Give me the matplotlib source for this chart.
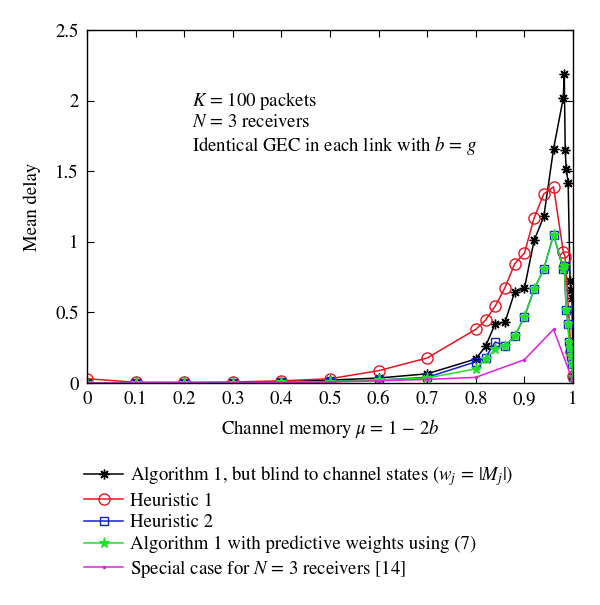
import matplotlib
matplotlib.use("Agg")
import matplotlib.pyplot as plt

plt.rcParams['font.family'] = ['STIXGeneral', 'DejaVu Serif']
plt.rcParams['mathtext.fontset'] = 'stix'

# Algorithm 1, blind to channel states (black)
x_blind = [0, 0.1, 0.2, 0.3, 0.4, 0.5, 0.6, 0.7, 0.8, 0.82, 0.84, 0.86, 0.88, 0.9, 0.92, 0.94, 0.96,
           0.98, 0.982, 0.984, 0.986, 0.99, 0.994, 0.996, 0.998, 1.0]
y_blind = [0.0, 0.0, 0.0, 0.0, 0.01, 0.02, 0.035, 0.065, 0.17, 0.26, 0.42, 0.43, 0.645, 0.67, 1.01, 1.18, 1.66,
           2.02, 2.19, 1.65, 1.52, 1.42, 0.72, 0.66, 0.60, 0.05]

# Heuristic 1 (red)
x_h1 = [0, 0.1, 0.2, 0.3, 0.4, 0.5, 0.6, 0.7, 0.8, 0.82, 0.84, 0.86, 0.88, 0.9, 0.92, 0.94, 0.96,
        0.98, 0.984, 0.996, 1.0]
y_h1 = [0.03, 0.005, 0.005, 0.007, 0.015, 0.03, 0.087, 0.177, 0.38, 0.445, 0.545, 0.675, 0.845, 0.92, 1.17, 1.34, 1.39,
        0.93, 0.89, 0.22, 0.05]

# Heuristic 2 (blue)
x_h2 = [0, 0.1, 0.2, 0.3, 0.4, 0.5, 0.6, 0.7, 0.8, 0.82, 0.84, 0.86, 0.88, 0.9, 0.92, 0.94, 0.96,
        0.98, 0.982, 0.986, 0.99, 0.992, 0.994, 0.996, 0.998, 1.0]
y_h2 = [0.0, 0.0, 0.0, 0.0, 0.005, 0.01, 0.02, 0.04, 0.15, 0.18, 0.29, 0.264, 0.33, 0.47, 0.665, 0.81, 1.05,
        0.81, 0.83, 0.52, 0.415, 0.29, 0.25, 0.19, 0.135, 0.045]

# Algorithm 1 with predictive weights (green)
x_pred = [0, 0.1, 0.2, 0.3, 0.4, 0.5, 0.6, 0.7, 0.8, 0.82, 0.84, 0.86, 0.88, 0.9, 0.92, 0.94, 0.96,
          0.98, 0.982, 0.986, 0.99, 0.992, 0.994, 0.996, 0.998, 1.0]
y_pred = [0.0, 0.0, 0.0, 0.0, 0.005, 0.01, 0.02, 0.035, 0.10, 0.17, 0.24, 0.264, 0.33, 0.47, 0.665, 0.81, 1.05,
          0.81, 0.83, 0.52, 0.415, 0.29, 0.25, 0.19, 0.135, 0.045]

# Special case for N = 3 receivers (magenta)
x_spec = [0, 0.1, 0.2, 0.3, 0.4, 0.5, 0.6, 0.7, 0.8, 0.9, 0.96, 1.0]
y_spec = [0.0, 0.0, 0.0, 0.0, 0.003, 0.007, 0.015, 0.025, 0.04, 0.165, 0.38, 0.01]

labels = [r'Algorithm 1, but blind to channel states ($w_j\,=\,|M_j|$)',
          'Heuristic 1',
          'Heuristic 2',
          'Algorithm 1 with predictive weights using (7)',
          r'Special case for $N$ = 3 receivers [14]']

xticks = [0, 0.1, 0.2, 0.3, 0.4, 0.5, 0.6, 0.7, 0.8, 0.9, 1]
xticklabels = ['0', '0.1', '0.2', '0.3', '0.4', '0.5', '0.6', '0.7', '0.8', '0.9', '1']
yticks = [0, 0.5, 1, 1.5, 2, 2.5]
yticklabels = ['0', '0.5', '1', '1.5', '2', '2.5']

fs = 13.5
fig = plt.figure(figsize=(6.0, 6.05), dpi=100)
ax = fig.add_axes([0.145, 0.367, 0.81, 0.583])

l1, = ax.plot(x_blind, y_blind, color='black', lw=1.1, marker=(8, 2, 0), ms=7, mew=1.0, label=labels[0])
l2, = ax.plot(x_h1, y_h1, color='#e8141e', lw=1.1, marker='o', ms=8, mfc='none', mew=1.0, label=labels[1])
l3, = ax.plot(x_h2, y_h2, color='#1420d2', lw=1.1, marker='s', ms=6, mfc='none', mew=1.0, label=labels[2])
l4, = ax.plot(x_pred, y_pred, color='#22e02a', lw=1.1, marker='*', ms=8, mew=0.8, label=labels[3])
l5, = ax.plot(x_spec, y_spec, color='#e020e0', lw=1.1, marker='.', ms=3, label=labels[4])

ax.set_xlim(0, 1)
ax.set_ylim(0, 2.5)
ax.set_xticks(xticks)
ax.set_xticklabels(xticklabels, fontsize=fs)
ax.set_yticks(yticks)
ax.set_yticklabels(yticklabels, fontsize=fs)
ax.tick_params(direction='in', top=True, right=True, length=5, width=0.8, pad=6)
for s in ax.spines.values():
    s.set_linewidth(1.0)
    s.set_color('black')

ax.set_xlabel(r'Channel memory $\mu$ = 1 $-$ 2$b$', fontsize=fs, labelpad=6)
ax.set_ylabel('Mean delay', fontsize=fs, labelpad=10)

ax.text(0.216, 2.0, r'$K$ = 100 packets', fontsize=fs, va='center')
ax.text(0.216, 1.845, r'$N$ = 3 receivers', fontsize=fs, va='center')
ax.text(0.216, 1.685, r'Identical GEC in each link with $b$ = $g$', fontsize=fs, va='center')

fig.legend(handles=[l1, l2, l3, l4, l5], loc='upper left', bbox_to_anchor=(0.14, 0.233),
           frameon=False, fontsize=fs, handlelength=2.1, handletextpad=0.35,
           labelspacing=0.24, borderaxespad=0, borderpad=0)

fig.savefig('out.png', dpi=100)
